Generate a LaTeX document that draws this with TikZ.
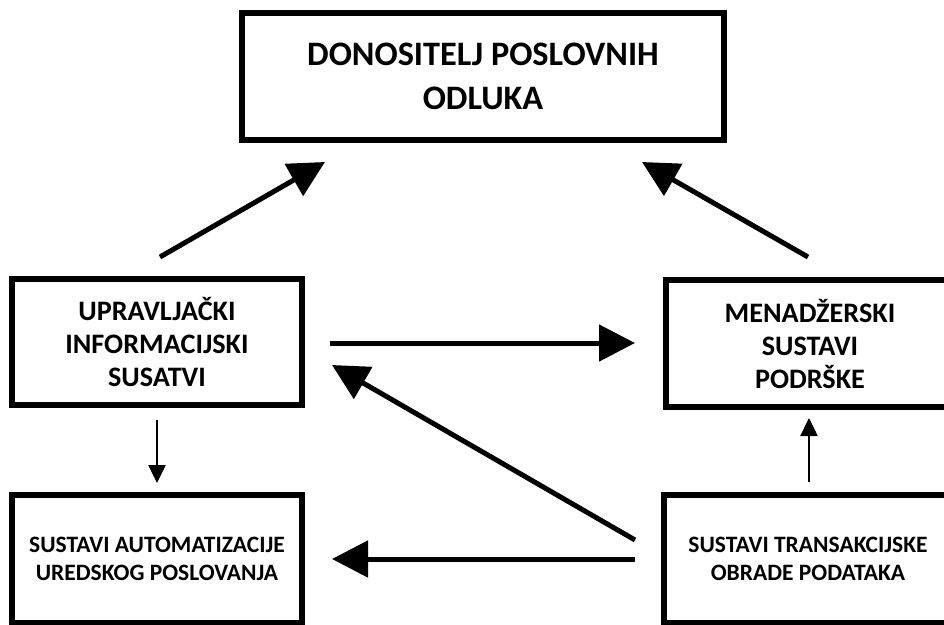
\documentclass[tikz,border=0pt]{standalone}
\usepackage{fontspec}
\setmainfont{Carlito}
\usetikzlibrary{arrows.meta}
\begin{document}
\begin{tikzpicture}[x=1pt,y=-1pt,
  box/.style={draw=black, line width=6pt, rectangle, inner sep=0pt, align=center, font=\bfseries},
  bigarrow/.style={-{Triangle[length=36pt,width=36pt]}, line width=5pt},
  smallarrow/.style={-{Triangle[length=18pt,width=17pt]}, line width=2.5pt},
  topfont/.style={font=\bfseries\fontsize{34.3}{44}\selectfont},
  midfont/.style={font=\bfseries\fontsize{28.2}{33}\selectfont},
  lowfont/.style={font=\bfseries\fontsize{23.5}{28.5}\selectfont}]
\useasboundingbox (0,0) rectangle (944,624);
\fill[white] (0,0) rectangle (944,624);

\node[box, topfont, minimum width=482pt, minimum height=127pt] (dec) at (483,76.5)
  {DONOSITELJ POSLOVNIH\\ODLUKA};
\node[box, midfont, minimum width=290pt, minimum height=126pt] (uis) at (157,342)
  {UPRAVLJAČKI\\INFORMACIJSKI\\SUSATVI};
\node[box, midfont, minimum width=288pt, minimum height=127pt] (msp) at (810,343.5)
  {MENADŽERSKI\\SUSTAVI\\PODRŠKE};
\node[box, lowfont, minimum width=290pt, minimum height=128pt] (sau) at (157,559)
  {SUSTAVI AUTOMATIZACIJE\\UREDSKOG POSLOVANJA};
\node[box, lowfont, minimum width=288pt, minimum height=128pt] (sto) at (808,559)
  {SUSTAVI TRANSAKCIJSKE\\OBRADE PODATAKA};

\coordinate (a1s) at (160,257);  \coordinate (a1e) at (325,162);
\coordinate (a2s) at (808,257);  \coordinate (a2e) at (642,162);
\coordinate (a3s) at (330,343);  \coordinate (a3e) at (635,343);
\coordinate (a4s) at (635,540);  \coordinate (a4e) at (332,365);
\coordinate (a5s) at (635,559);  \coordinate (a5e) at (332,559);
\coordinate (a6s) at (157,420);  \coordinate (a6e) at (157,483);
\coordinate (a7s) at (809,482);  \coordinate (a7e) at (809,418);

\draw[bigarrow] (a1s) -- (a1e);
\draw[bigarrow] (a2s) -- (a2e);
\draw[bigarrow] (a3s) -- (a3e);
\draw[bigarrow] (a4s) -- (a4e);
\draw[bigarrow] (a5s) -- (a5e);
\draw[smallarrow] (a6s) -- (a6e);
\draw[smallarrow] (a7s) -- (a7e);
\end{tikzpicture}
\end{document}
